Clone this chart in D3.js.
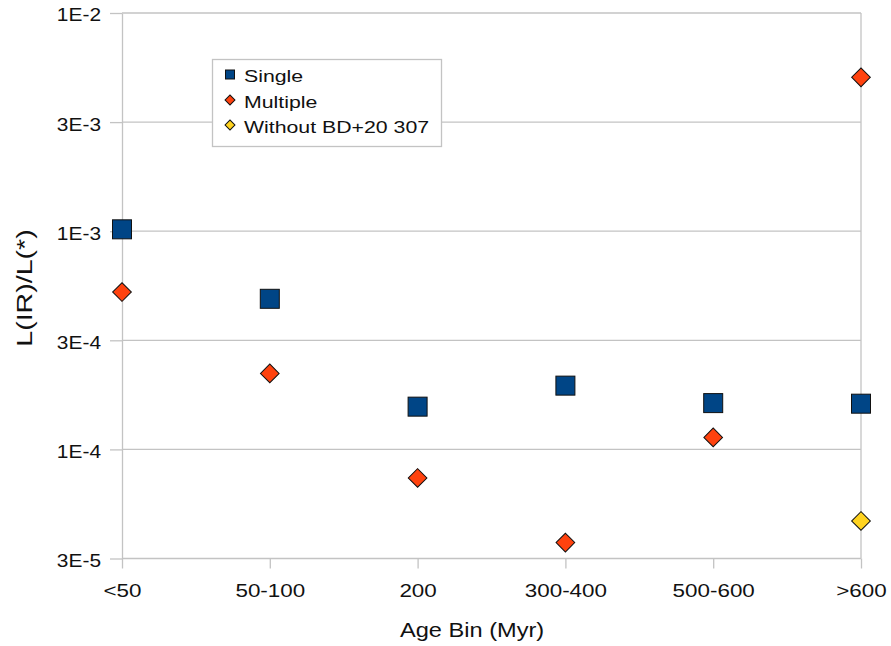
<!DOCTYPE html>
<html>
<head>
<meta charset="utf-8">
<script src="https://cdn.jsdelivr.net/npm/d3@7"></script>
<style>
  html, body { margin: 0; padding: 0; background: #fff; }
  svg { display: block; font-family: "Liberation Sans", Arial, sans-serif; }
</style>
</head>
<body>
<svg id="chart" width="891" height="646"></svg>
<script>
// Age bins and the infrared excess ratio L(IR)/L(*) per bin
const categories = ["<50", "50-100", "200", "300-400", "500-600", ">600"];
const singleValues = [1.02e-3, 4.9e-4, 1.57e-4, 1.96e-4, 1.63e-4, 1.62e-4];
const multipleValues = [5.26e-4, 2.23e-4, 7.4e-5, 3.74e-5, 1.135e-4, 5.07e-3];
const withoutValues = [null, null, null, null, null, 4.7e-5];
const yTickValues = [1e-2, Math.pow(10, -2.5), 1e-3, Math.pow(10, -3.5), 1e-4, Math.pow(10, -4.5)];
const yTickLabels = ["1E-2", "3E-3", "1E-3", "3E-4", "1E-4", "3E-5"];
const seriesNames = ["Single", "Multiple", "Without BD+20 307"];

const svg = d3.select("#chart");
const plotLeft = 122, plotRight = 861, plotTop = 13, plotBottom = 558.5;
const gridColor = "#c3c3c3";
const ink = "#111";
const fontFamily = "Liberation Sans, Arial, sans-serif";

const x = d3.scalePoint().domain(categories).range([plotLeft, plotRight]).padding(0);
const y = d3.scaleLog().domain([Math.pow(10, -4.5), 1e-2]).range([plotBottom, plotTop]);

// horizontal gridlines
svg.append("g").selectAll("line").data(yTickValues).join("line")
  .attr("x1", plotLeft).attr("x2", plotRight)
  .attr("y1", d => y(d)).attr("y2", d => y(d))
  .attr("stroke", gridColor).attr("stroke-width", 1.3);

// y axis (labels drawn with a slightly widened face)
const yStretch = 1.1, yLabelOffset = 21;
const yAxis = d3.axisLeft(y).tickValues(yTickValues)
  .tickFormat((d, i) => yTickLabels[i]).tickSizeInner(12).tickSizeOuter(0).tickPadding(9);
const gy = svg.append("g").attr("transform", `translate(${plotLeft},0)`).call(yAxis);
gy.select(".domain").attr("stroke", gridColor).attr("stroke-width", 1.3);
gy.selectAll(".tick line").attr("stroke", gridColor).attr("stroke-width", 1.3);
gy.selectAll(".tick text").attr("font-size", 19).attr("fill", ink)
  .attr("x", -yLabelOffset / yStretch).attr("dy", "0.42em")
  .attr("transform", `scale(${yStretch},1)`)
  .attr("font-family", fontFamily);

// right frame line
svg.append("line").attr("x1", plotRight).attr("x2", plotRight).attr("y1", plotTop).attr("y2", plotBottom)
  .attr("stroke", gridColor).attr("stroke-width", 1.3);

// x axis
const xStretch = 1.18;
const xAxis = d3.axisBottom(x).tickSizeInner(10).tickSizeOuter(0).tickPadding(15);
const gx = svg.append("g").attr("transform", `translate(0,${plotBottom})`).call(xAxis);
gx.select(".domain").remove();
gx.selectAll(".tick line").attr("stroke", gridColor).attr("stroke-width", 1.3);
gx.selectAll(".tick text").attr("font-size", 19).attr("fill", ink)
  .attr("transform", `scale(${xStretch},1)`)
  .attr("font-family", fontFamily);

// axis titles
svg.append("text").attr("transform", "translate(400,637) scale(1.18,1)")
  .attr("text-anchor", "start").attr("font-size", 20).attr("fill", ink).text("Age Bin (Myr)");
svg.append("text").attr("transform", "translate(32,288) rotate(-90) scale(1.3,1)")
  .attr("text-anchor", "middle").attr("font-size", 22).attr("fill", ink).text("L(IR)/L(*)");

// markers
const sq = 19, dm = 13.2;
const colors = ["#004586", "#ff420e", "#ffd320"];
function diamond(sel, s) {
  return sel.attr("width", s).attr("height", s).attr("x", -s / 2).attr("y", -s / 2);
}

const singleData = categories.map((c, i) => ({ c, v: singleValues[i] })).filter(d => d.v != null);
svg.append("g").selectAll("rect").data(singleData).join("rect")
  .attr("x", d => x(d.c) - sq / 2).attr("y", d => y(d.v) - sq / 2)
  .attr("width", sq).attr("height", sq)
  .attr("fill", colors[0]).attr("stroke", ink).attr("stroke-width", 1);

function drawDiamonds(values, color) {
  const data = categories.map((c, i) => ({ c, v: values[i] })).filter(d => d.v != null);
  svg.append("g").selectAll("rect").data(data).join("rect")
    .attr("transform", d => `translate(${x(d.c)},${y(d.v)}) rotate(45)`)
    .call(diamond, dm)
    .attr("fill", color).attr("stroke", ink).attr("stroke-width", 1);
}
drawDiamonds(multipleValues, colors[1]);
drawDiamonds(withoutValues, colors[2]);

// legend
const lg = svg.append("g");
lg.append("rect").attr("x", 212.5).attr("y", 59.5).attr("width", 229).attr("height", 87)
  .attr("fill", "#fff").attr("stroke", gridColor).attr("stroke-width", 1.3);
const rows = [74.5, 100, 125];
lg.append("rect").attr("x", 225.5).attr("y", rows[0] - 4.5).attr("width", 9).attr("height", 9)
  .attr("fill", colors[0]).attr("stroke", ink).attr("stroke-width", 1);
[1, 2].forEach(i => {
  lg.append("rect").attr("transform", `translate(230,${rows[i]}) rotate(45)`)
    .call(diamond, 7).attr("fill", colors[i]).attr("stroke", ink).attr("stroke-width", 1);
});
seriesNames.forEach((n, i) => {
  lg.append("text").attr("transform", `translate(244,${rows[i] + 7.8}) scale(1.29,1)`)
    .attr("font-size", 16.5).attr("fill", ink).text(n);
});
</script>
</body>
</html>
